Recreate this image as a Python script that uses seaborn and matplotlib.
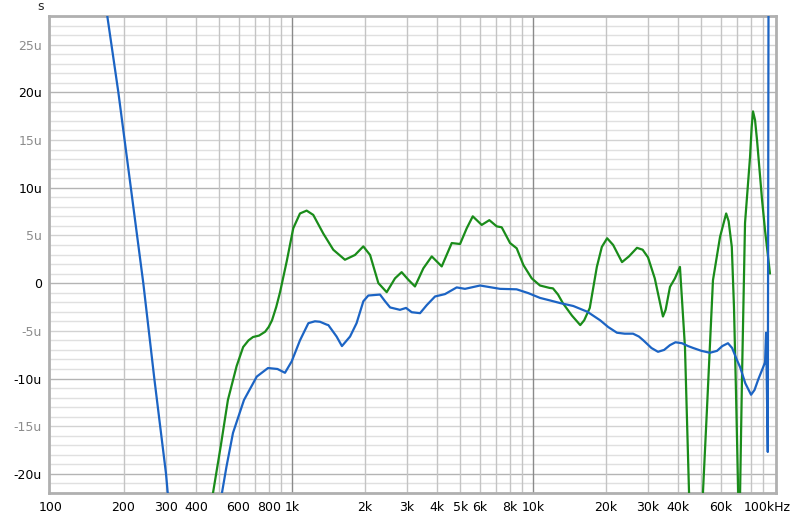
import numpy as np
import pandas as pd
import matplotlib
matplotlib.use("Agg")
import matplotlib.pyplot as plt
from matplotlib.ticker import FixedLocator, NullFormatter
from matplotlib.transforms import ScaledTranslation
import seaborn as sns

# ---- data (group delay in microseconds) ----
blue_seg1_f = [171.2, 190.3, 214.4, 241.5, 268.3, 300.1, 305]
blue_seg1_v = [28, 20, 10, 0, -10, -20, -22]

blue_seg2_f = [512, 535, 569, 632, 714, 795, 870, 935, 997, 1079, 1169, 1245, 1306, 1393, 1415,
               1531, 1611, 1741, 1853, 1977, 2073, 2318, 2432, 2553, 2805, 2972, 3138, 3398,
               3625, 3921, 4313, 4823, 5220, 6030, 7295, 8550, 9565, 10690, 11700, 13000,
               14700, 16800, 19000, 20500, 22300, 24000, 26000, 27500, 28700, 31000, 33000,
               35000, 37000, 39000, 41500, 44000, 46200, 50000, 54200, 58000, 61000, 64400,
               67000, 70000, 72300, 76000, 80300, 83000, 86000, 89200, 91800, 92700, 94200,
               95300]
blue_seg2_v = [-22, -19.2, -15.7, -12.25, -9.8, -8.9, -9.0, -9.4, -8.2, -6.0, -4.2, -4.0, -4.05,
               -4.35, -4.4, -5.6, -6.6, -5.6, -4.2, -1.9, -1.3, -1.2, -1.9, -2.55, -2.8, -2.6,
               -3.05, -3.15, -2.3, -1.4, -1.15, -0.45, -0.6, -0.25, -0.6, -0.65, -1.05, -1.55,
               -1.8, -2.1, -2.4, -3.0, -3.9, -4.6, -5.2, -5.3, -5.3, -5.6, -6.0, -6.8, -7.2,
               -7.0, -6.5, -6.2, -6.3, -6.6, -6.8, -7.1, -7.3, -7.1, -6.6, -6.3,
               -6.8, -8.0, -8.8, -10.5, -11.7, -11.2, -10.1, -9.1, -8.3, -5.2, -17.7,
               60]

green_seg1_f = [470, 506, 542, 589, 627, 660, 689, 730, 773, 800, 826, 860, 891, 951, 1012, 1079,
                1150, 1225, 1348, 1483, 1658, 1825, 1976, 2108, 2282, 2471, 2675, 2850, 3039,
                3237, 3507, 3800, 4180, 4600, 4980, 5308, 5623, 6125, 6588, 7068, 7415, 8030,
                8555, 9120, 9876, 10690, 11700, 12100, 12700, 13300, 14500, 15700, 16300,
                17200, 18400, 19300, 20300, 21500, 23400, 25000, 27000, 28500, 30000, 32000,
                34600, 35500, 37000, 38800, 40700, 42700, 44400]
green_seg1_v = [-22, -17.1, -12.25, -8.7, -6.7, -6.0, -5.65, -5.5, -5.1, -4.6, -3.9, -2.5, -1.0,
                2.3, 5.75, 7.3, 7.6, 7.15, 5.2, 3.5, 2.45, 2.95, 3.85, 2.95, 0.0, -0.95, 0.5,
                1.15, 0.35, -0.35, 1.55, 2.8, 1.75, 4.2, 4.1, 5.75, 7.0, 6.1, 6.6, 5.95, 5.85,
                4.2, 3.65, 1.9, 0.5, -0.25, -0.5, -0.55, -1.2, -2.1, -3.4, -4.4, -3.9,
                -2.6, 1.7, 3.8, 4.7, 4.0, 2.2, 2.8, 3.7, 3.5, 2.7, 0.5,
                -3.5, -2.8, -0.4, 0.5, 1.7, -6.7, -22]

green_seg2_f = [50700, 52600, 55800, 59700, 63300, 64800, 66800, 68200, 69500, 71000]
green_seg2_v = [-22, -13.6, 0.3, 4.85, 7.3, 6.5, 3.8, -2.5, -11.2, -22]

green_seg3_f = [72300, 73600, 75800, 79500, 80800, 81800, 83400, 85000, 89200, 91800, 96200]
green_seg3_v = [-22, -10.2, 6.3, 13.2, 16.4, 18.0, 17.1, 15.0, 8.7, 5.5, 1.0]

x_tick_values = [100, 200, 300, 400, 600, 800, 1000, 2000, 3000, 4000, 5000, 6000, 8000,
                 10000, 20000, 30000, 40000, 60000, 100000]
x_tick_labels = ["100", "200", "300", "400", "600", "800", "1k", "2k", "3k", "4k", "5k", "6k",
                 "8k", "10k", "20k", "30k", "40k", "60k", "100kHz"]
y_tick_values = [-20, -15, -10, -5, 0, 5, 10, 15, 20, 25]
y_tick_labels = ["-20u", "-15u", "-10u", "-5u", "0", "5u", "10u", "15u", "20u", "25u"]

BLUE = "#1c64c4"
GREEN = "#1a8c1a"

frames = []
for name, seg, f, v in [("blue", "b1", blue_seg1_f, blue_seg1_v),
                        ("blue", "b2", blue_seg2_f, blue_seg2_v),
                        ("green", "g1", green_seg1_f, green_seg1_v),
                        ("green", "g2", green_seg2_f, green_seg2_v),
                        ("green", "g3", green_seg3_f, green_seg3_v)]:
    frames.append(pd.DataFrame({"freq": f, "delay": v, "trace": name, "segment": seg}))
df = pd.concat(frames, ignore_index=True)

sns.set_theme(style="white")
plt.rcParams['font.family'] = ['DejaVu Sans']

fig = plt.figure(figsize=(8.0, 5.17), dpi=100)
ax = fig.add_axes([49 / 800, 24 / 517, 727 / 800, 477 / 517])
ax.set_xscale("log")

# grid lines
for yv in range(-22, 29):
    if yv % 10 == 0:
        c = "#b4b4b4"
    elif yv % 5 == 0:
        c = "#d2d2d2"
    else:
        c = "#e0e0e0"
    ax.axhline(yv, color=c, lw=1.0, zorder=0)
minor_x = []
for dec in [100, 1000, 10000]:
    for m in range(2, 10):
        minor_x.append(dec * m)
for xv in minor_x:
    ax.axvline(xv, color="#c4c4c4", lw=1.0, zorder=0.5)
for xv in [1000, 10000]:
    ax.axvline(xv, color="#8a8a8a", lw=1.0, zorder=0.6)

sns.lineplot(data=df, x="freq", y="delay", hue="trace", units="segment", estimator=None,
             palette={"blue": BLUE, "green": GREEN}, hue_order=["green", "blue"],
             linewidth=1.6, legend=False, ax=ax, sort=False, zorder=3)

ax.set_xlim(98.1, 101900)
ax.set_ylim(-22, 28)
ax.xaxis.set_major_locator(FixedLocator(x_tick_values))
ax.set_xticklabels(x_tick_labels)
ax.xaxis.set_minor_formatter(NullFormatter())
ax.xaxis.set_minor_locator(FixedLocator([]))
ax.set_yticks(y_tick_values)
ax.set_yticklabels(y_tick_labels)
ax.tick_params(axis="both", length=0, labelsize=9, colors="#000000")
ax.tick_params(axis="x", pad=6)
ax.tick_params(axis="y", pad=5)
for lbl, val in zip(ax.get_yticklabels(), y_tick_values):
    lbl.set_color("#000000" if val % 10 == 0 else "#8c8c8c")
last = ax.get_xticklabels()[-1]
last.set_transform(last.get_transform() + ScaledTranslation(-7 / 100, 0, fig.dpi_scale_trans))
ax.set_xlabel("")
ax.set_ylabel("")
for sp in ax.spines.values():
    sp.set_color("#b0b0b0")
    sp.set_linewidth(2.0)
ax.set_facecolor("white")
fig.text(41 / 800, 1 - 7 / 517, "s", ha="center", va="center", fontsize=9)

fig.savefig("out.png", dpi=100)
